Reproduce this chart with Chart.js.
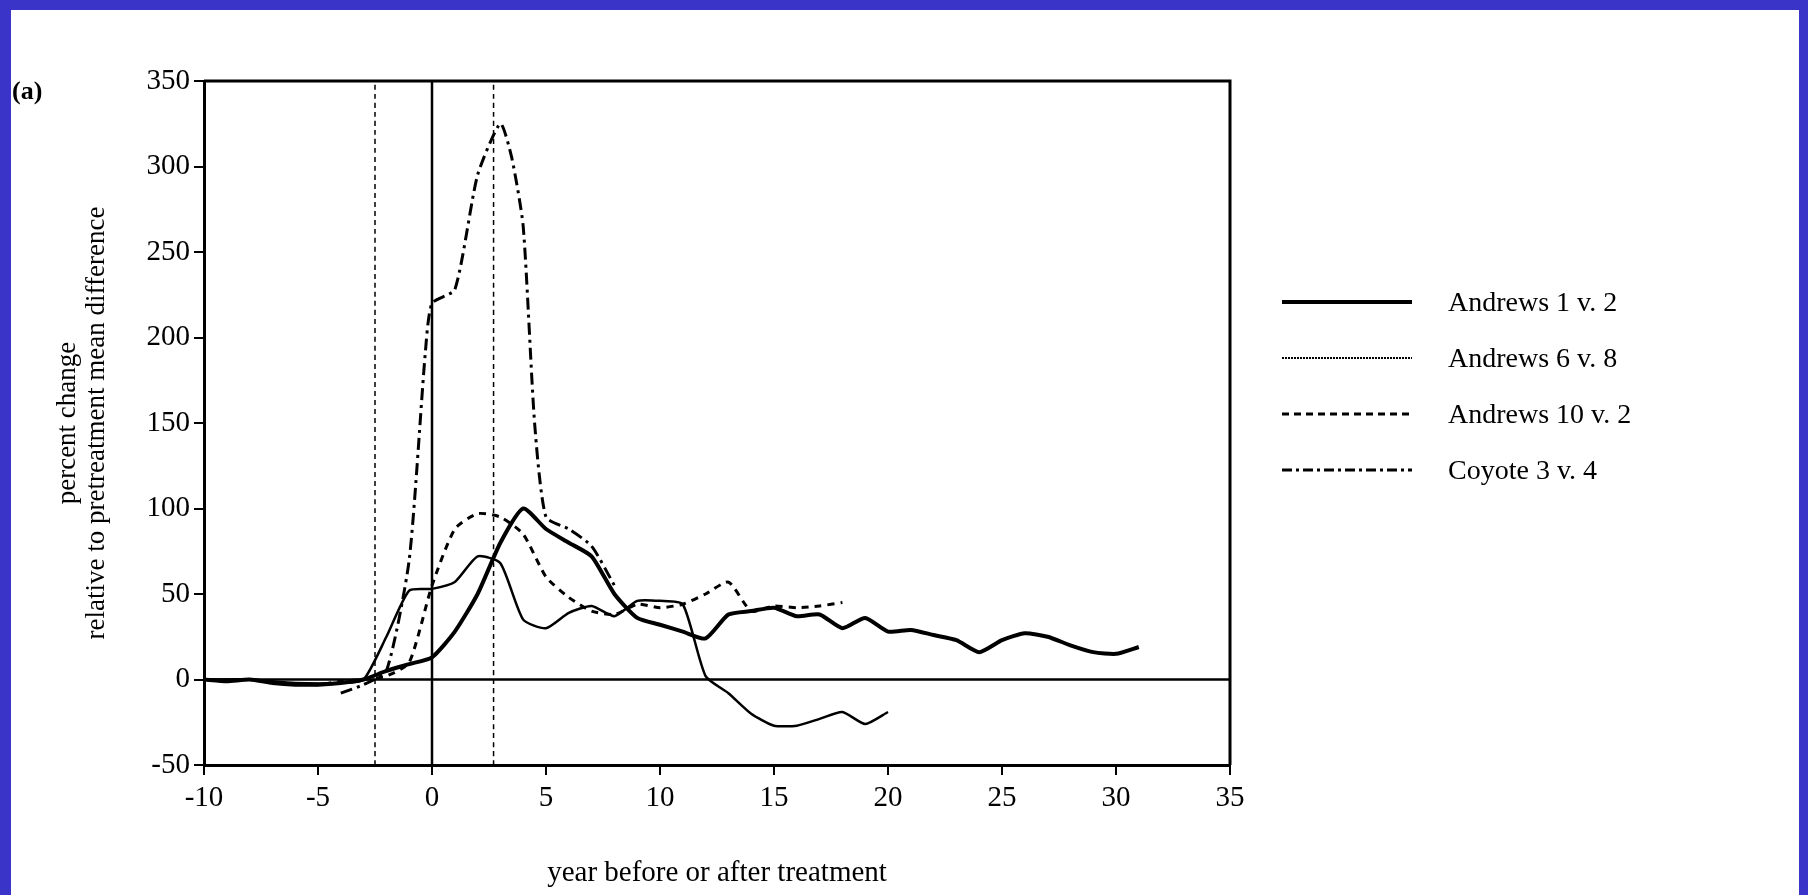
<!DOCTYPE html>
<html><head><meta charset="utf-8">
<script src="https://cdn.jsdelivr.net/npm/chart.js@4/dist/chart.umd.min.js"></script>
<style>
body{margin:0;background:#3b34c8;width:1808px;height:895px;overflow:hidden;position:relative;font-family:"Liberation Serif",serif}
#paper{position:absolute;left:11px;top:10px;width:1788px;height:885px;background:#fff}
#c{position:absolute;left:0;top:0}
.tag{position:absolute;left:12px;top:76px;font-size:26px;font-weight:bold}
#legend{position:absolute;left:1282px;top:274px}
.row{height:56px;display:flex;align-items:center}
.row svg{width:130px;height:10px;margin-right:36px}
.row span{font-size:28px}
</style></head><body>
<div id="paper"></div>
<canvas id="c" width="1808" height="895"></canvas>
<div class="tag">(a)</div>
<div id="legend">
  <div class="row"><svg><line x1="0" y1="5" x2="130" y2="5" stroke="#000" stroke-width="4"/></svg><span>Andrews 1 v. 2</span></div>
  <div class="row"><svg><line x1="0" y1="5" x2="130" y2="5" stroke="#000" stroke-width="2" stroke-dasharray="2 1"/></svg><span>Andrews 6 v. 8</span></div>
  <div class="row"><svg><line x1="0" y1="5" x2="130" y2="5" stroke="#000" stroke-width="3" stroke-dasharray="7 5"/></svg><span>Andrews 10 v. 2</span></div>
  <div class="row"><svg><line x1="0" y1="5" x2="130" y2="5" stroke="#000" stroke-width="3" stroke-dasharray="10 4 3 4"/></svg><span>Coyote 3 v. 4</span></div>
</div>
<script>
// values
const a1x = [-10,-9,-8,-7,-6,-5,-4,-3,-2,-1,0,1,2,3,4,5,6,7,8,9,10,11,12,13,14,15,16,17,18,19,20,21,22,23,24,25,26,27,28,29,30,31];
const a1y = [0,-1,0,-2,-3,-3,-2,0,5,9,13,28,50,80,100,88,80,72,50,36,32,28,24,38,40,42,37,38,30,36,28,29,26,23,16,23,27,25,20,16,15,19];
const a6x = [-10,-8,-6,-4,-3,-2,-1,0,1,2,3,4,5,6,7,8,9,10,11,12,13,14,15,16,17,18,19,20];
const a6y = [0,0,-2,-2,0,25,52,53,57,72,68,35,30,39,43,37,46,46,44,2,-8,-20,-27,-27,-23,-19,-26,-19];
const a10x = [-7,-5,-4,-3,-2,-1,0,1,2,3,4,5,6,7,8,9,10,11,12,13,14,15,16,17,18];
const a10y = [-2,-3,-1,0,2,10,55,88,97,95,85,60,48,40,38,44,42,44,50,57,40,43,42,43,45];
const cyx = [-4,-3,-2,-1,-0.3,0,1,2,3,3.5,4,4.5,5,6,7,8];
const cyy = [-8,-3,5,70,190,220,228,295,325,305,265,150,95,88,78,55];
const refX = [-2.5,2.7];
const xTicks = [-10,-5,0,5,10,15,20,25,30,35];
const yTicks = [-50,0,50,100,150,200,250,300,350];

const pts = (xs, ys) => xs.map((x, i) => ({x, y: ys[i]}));
const line = (data, w, dash) => ({data, borderColor:'#000', borderWidth:w, borderDash:dash, pointRadius:0, tension:0.2, fill:false});
const serif = {family:'"Liberation Serif", serif', size:29};

new Chart(document.getElementById('c'), {
  type:'line',
  data:{datasets:[
    line([{x:-10,y:0},{x:35,y:0}], 2.5, []),
    line([{x:0,y:-50},{x:0,y:350}], 2.5, []),
    line([{x:refX[0],y:-50},{x:refX[0],y:350}], 1.5, [5,4]),
    line([{x:refX[1],y:-50},{x:refX[1],y:350}], 1.5, [5,4]),
    line(pts(a1x,a1y), 4, []),
    line(pts(a6x,a6y), 2.5, []),
    line(pts(a10x,a10y), 3, [7,6]),
    line(pts(cyx,cyy), 3, [12,5,3,5])
  ]},
  options:{
    responsive:false, animation:false,
    layout:{padding:{top:81,right:578,left:50,bottom:0}},
    plugins:{legend:{display:false}, tooltip:{enabled:false}},
    scales:{
      x:{type:'linear', min:-10, max:35,
        afterBuildTicks:s=>{s.ticks = xTicks.map(v=>({value:v}));},
        afterFit:s=>{s.height = 130;},
        grid:{drawOnChartArea:false, color:'#000', tickLength:10, lineWidth:2},
        border:{color:'#000', width:3},
        ticks:{color:'#000', font:serif, padding:6, maxRotation:0},
        title:{display:true, text:'year before or after treatment', color:'#000', font:serif, padding:{top:16}}},
      y:{min:-50, max:350,
        afterBuildTicks:s=>{s.ticks = yTicks.map(v=>({value:v}));},
        afterFit:s=>{s.width = 154;},
        grid:{drawOnChartArea:false, color:'#000', tickLength:10, lineWidth:2},
        border:{color:'#000', width:3},
        ticks:{color:'#000', font:serif, padding:4},
        title:{display:true, text:['percent change','relative to pretreatment mean difference'], color:'#000', font:{...serif, size:27, lineHeight:1.05}, padding:{bottom:6}}}
    }
  },
  plugins:[{id:'frame', afterDraw(c){
    const {ctx, chartArea:a} = c;
    ctx.save(); ctx.strokeStyle='#000'; ctx.lineWidth=3;
    ctx.beginPath(); ctx.moveTo(a.left,a.top); ctx.lineTo(a.right,a.top); ctx.lineTo(a.right,a.bottom); ctx.stroke();
    ctx.restore();
  }}]
});
</script>
</body></html>
